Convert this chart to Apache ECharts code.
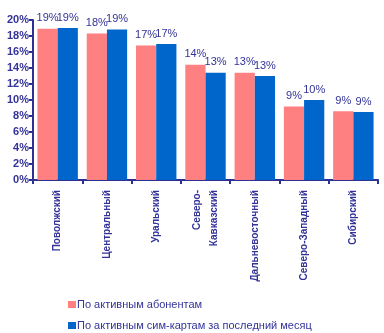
<!DOCTYPE html>
<html><head><meta charset="utf-8">
<script src="https://cdn.jsdelivr.net/npm/echarts@6/dist/echarts.min.js"></script>
<style>html,body{margin:0;padding:0;background:#fff}#c{width:384px;height:333px}</style>
</head><body><div id="c"></div>
<script>
const categories = ['Поволжский','Центральный','Уральский','Северо-\nКавказский','Дальневосточный','Северо-Западный','Сибирский'];
const seriesNames = ['По активным абонентам','По активным сим-картам за последний месяц'];
const subscribers = [18.9, 18.3, 16.8, 14.4, 13.4, 9.2, 8.6];
const simCards = [19.0, 18.8, 17.0, 13.4, 13.0, 10.0, 8.5];
const yTicks = {min:0, max:20, interval:2};
const textColor = '#333399';
const axisColor = '#2E3192';
const chart = echarts.init(document.getElementById('c'), null, {renderer:'canvas'});
const labelCfg = {show:true, position:'top', distance:5, color:textColor, fontSize:11, fontFamily:'Liberation Sans', formatter: p => Math.round(p.value) + '%'};
const legendBase = {orient:'horizontal', left:63, itemWidth:8, itemHeight:7, icon:'rect',
    textStyle:{color:textColor, fontSize:11, fontFamily:'Liberation Sans', padding:[0,0,0,-4]}};
chart.setOption({
  animation:false,
  grid:{left:33, right:6, top:20, bottom:153},
  legend:[
    Object.assign({}, legendBase, {top:294, data:[seriesNames[0]]}),
    Object.assign({}, legendBase, {top:315, data:[seriesNames[1]]})
  ],
  xAxis:{type:'category', data:categories,
    axisLine:{lineStyle:{color:axisColor, width:2}},
    axisTick:{show:true, length:4, lineStyle:{color:axisColor, width:2}},
    axisLabel:{rotate:90, interval:0, color:textColor, fontSize:10, fontWeight:'bold', fontFamily:'Liberation Sans', margin:10, lineHeight:17}},
  yAxis:{type:'value', min:yTicks.min, max:yTicks.max, interval:yTicks.interval,
    axisLine:{show:true, lineStyle:{color:axisColor, width:2}},
    axisTick:{show:true, length:4, lineStyle:{color:axisColor, width:2}},
    splitLine:{show:false},
    axisLabel:{color:textColor, fontSize:11, fontWeight:'bold', fontFamily:'Liberation Sans', margin:4, formatter:'{value}%'}},
  series:[
    {name:seriesNames[0], type:'bar', data:subscribers, itemStyle:{color:'#FF8080'}, barGap:'0%', barCategoryGap:'18%', label:labelCfg},
    {name:seriesNames[1], type:'bar', data:simCards, itemStyle:{color:'#0066CC'}, barGap:'0%', barCategoryGap:'18%', label:labelCfg}
  ]
});
</script></body></html>
